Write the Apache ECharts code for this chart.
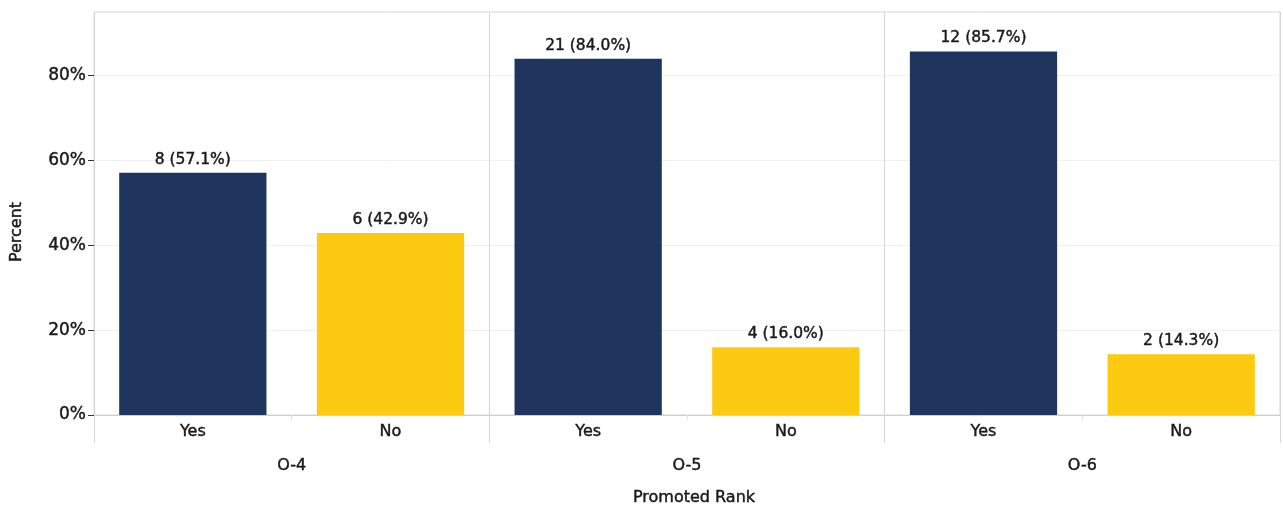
<!DOCTYPE html>
<html><head><meta charset="utf-8">
<script src="https://cdn.jsdelivr.net/npm/echarts@6/dist/echarts.min.js"></script>
<style>html,body{margin:0;padding:0;background:#fff}#c{width:1283px;height:508px}</style>
</head><body><div id="c"></div>
<script>
const ranks = ['O-4', 'O-5', 'O-6'];
const answers = ['Yes', 'No'];
const counts = [8, 6, 21, 4, 12, 2];
const percents = [57.1, 42.9, 84.0, 16.0, 85.7, 14.3];
const yTicks = [0, 20, 40, 60, 80];
const colors = {Yes: '#1f355e', No: '#fcca10'};

const cats = [];
ranks.forEach(r => answers.forEach(a => cats.push(a)));
const FONT = 'DejaVu Sans';
const TXT = '#1a1a1a';
const semi = {textBorderColor: TXT, textBorderWidth: 0.45};
const chart = echarts.init(document.getElementById('c'));
chart.setOption({
  animation: false,
  textStyle: {fontFamily: FONT},
  grid: {left: 94, right: 3, top: 12, bottom: 93, show: true, borderColor: '#d6d6d6', borderWidth: 1},
  xAxis: [{
    type: 'category', data: cats, position: 'bottom',
    axisLine: {show: true, lineStyle: {color: '#cfcfcf'}},
    axisTick: {show: true, length: 5, lineStyle: {color: '#e4e4e4'}},
    axisLabel: Object.assign({color: TXT, fontSize: 16, margin: 9, fontFamily: FONT}, semi),
    splitLine: {show: false}
  }, {
    type: 'category', data: ranks, position: 'bottom',
    axisLine: {show: false},
    axisTick: {show: true, length: 28, lineStyle: {color: '#d6d6d6'}},
    axisLabel: Object.assign({color: TXT, fontSize: 16, margin: 43, fontFamily: FONT}, semi),
    splitLine: {show: true, lineStyle: {color: '#d6d6d6'}}
  }],
  yAxis: {
    type: 'value', min: 0, max: 95, interval: 20,
    axisLine: {show: true, lineStyle: {color: '#d6d6d6'}},
    axisTick: {show: true, length: 6, customValues: yTicks, lineStyle: {color: '#333'}},
    axisLabel: Object.assign({color: TXT, fontSize: 17, margin: 8, fontFamily: FONT,
      customValues: yTicks, formatter: v => v + '%'}, semi),
    splitLine: {show: true, lineStyle: {color: '#f0f0f0'}}
  },
  series: [{
    type: 'bar', xAxisIndex: 0,
    barCategoryGap: '25.5%',
    data: percents.map((p, i) => ({value: p, itemStyle: {color: colors[cats[i]]}})),
    label: Object.assign({show: true, position: 'top', distance: 5, color: TXT, fontSize: 15.5, fontFamily: FONT,
      formatter: p => counts[p.dataIndex] + ' (' + percents[p.dataIndex].toFixed(1) + '%)'}, semi)
  }],
  graphic: [
    {type: 'text', x: 694, y: 498, style: {text: 'Promoted Rank', font: '16px ' + FONT, fill: TXT, stroke: TXT, lineWidth: 0.45, align: 'center', verticalAlign: 'middle'}},
    {type: 'text', x: 17, y: 232, rotation: Math.PI / 2, style: {text: 'Percent', font: '16px ' + FONT, fill: TXT, stroke: TXT, lineWidth: 0.45, align: 'center', verticalAlign: 'middle'}}
  ]
});
</script></body></html>
